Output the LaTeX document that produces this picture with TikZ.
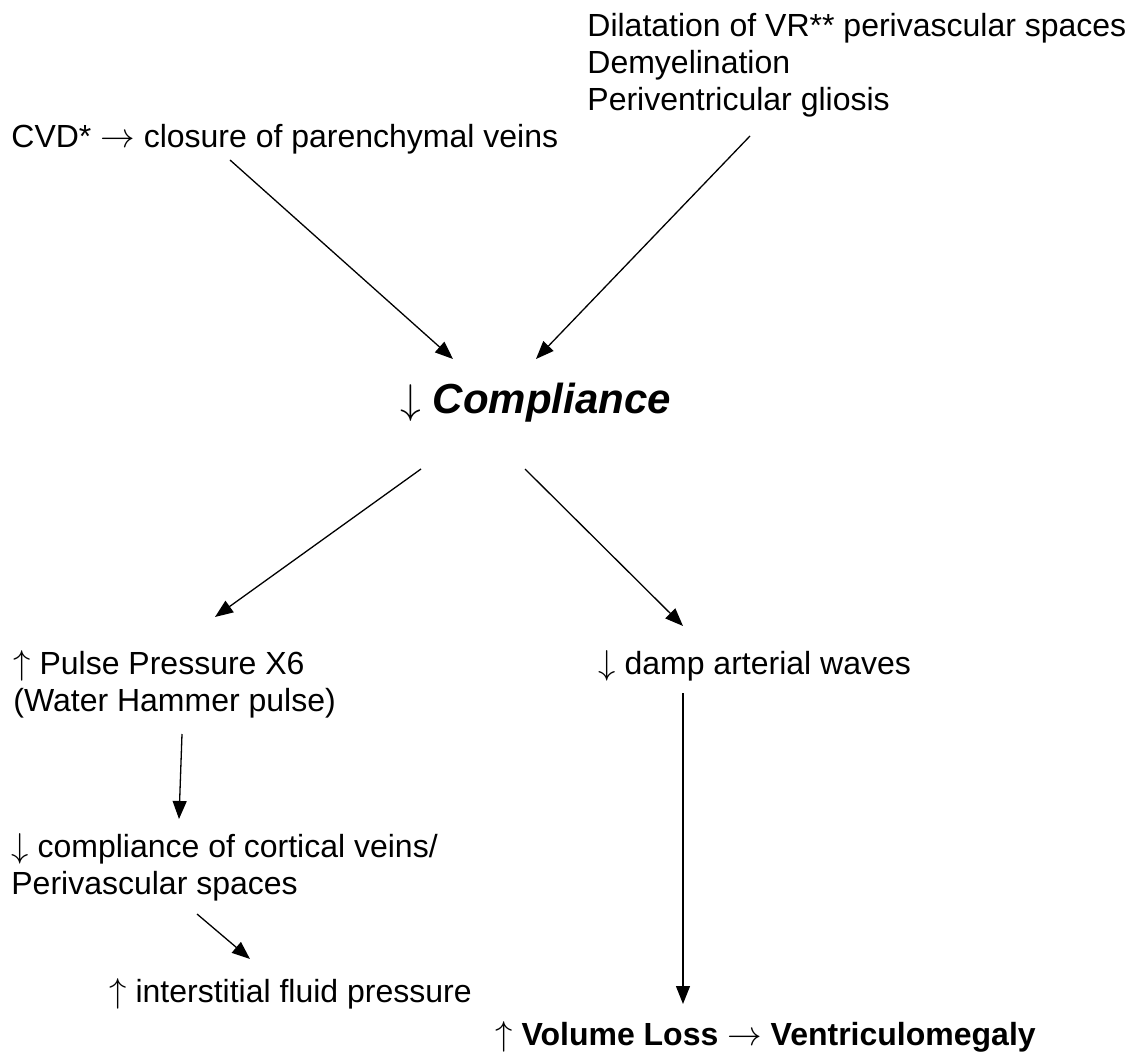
\documentclass[tikz,border=0pt]{standalone}
\usepackage{fontspec}
\setmainfont{Liberation Sans}
\usetikzlibrary{arrows.meta}

\newcommand{\su}{$\uparrow$}
\newcommand{\giu}{$\downarrow$}
\newcommand{\dx}{$\rightarrow$}

\begin{document}
\begin{tikzpicture}[
  x=0.5pt, y=-0.5pt,
  font=\fontsize{16}{18.5}\selectfont,
  testo/.style={anchor=base west, inner sep=0pt, align=left},
  fdline/.style={draw=black, line width=0.65pt},
  fdar/.style={fdline, -{Triangle[length=9pt,width=7pt]}}
]
\useasboundingbox (0,0) rectangle (1134,1052);

%--------------------------------------------------------------
% Cause
%--------------------------------------------------------------
\node[testo] (cvd) at (11,148) {CVD* \dx{} closure of parenchymal veins};
\node[testo] (dilat) at (587,111)
  {Dilatation of VR** perivascular spaces\\ Demyelination\\ Periventricular gliosis};

%--------------------------------------------------------------
% Compliance
%--------------------------------------------------------------
\node[testo] (compl) at (400,414)
  {\fontsize{21}{25}\selectfont \giu{} \textbf{\textit{Compliance}}};

\draw[fdar] ([shift={(219,12)}]cvd.base west) -- ([shift={(53,-55)}]compl.base west);
\draw[fdar] ([shift={(163,25)}]dilat.base west) -- ([shift={(136,-55)}]compl.base west);

%--------------------------------------------------------------
% Effetti
%--------------------------------------------------------------
\node[testo] (pulse) at (13,711) {\su{} Pulse Pressure X6\\ (Water Hammer pulse)};
\node[testo] (damp) at (598,675) {\giu{} damp arterial waves};
\node[testo] (cortic) at (11,894) {\giu{} compliance of cortical veins/\\ Perivascular spaces};
\node[testo] (interst) at (109,1002) {\su{} interstitial fluid pressure};
\node[testo] (volume) at (495,1045) {\textbf{\su{} Volume Loss \dx{} Ventriculomegaly}};

\draw[fdar] ([shift={(21,55)}]compl.base west) -- ([shift={(202,-94)}]pulse.base west);
\draw[fdar] ([shift={(125,55)}]compl.base west) -- ([shift={(85,-49)}]damp.base west);
\draw[fdar] ([shift={(169,23)}]pulse.base west) -- ([shift={(168,-75)}]cortic.base west);
\draw[fdar] ([shift={(186,20)}]cortic.base west) -- ([shift={(141,-43)}]interst.base west);
\draw[fdar] ([shift={(85,18)}]damp.base west) -- ([shift={(188,-41)}]volume.base west);

\end{tikzpicture}
\end{document}
